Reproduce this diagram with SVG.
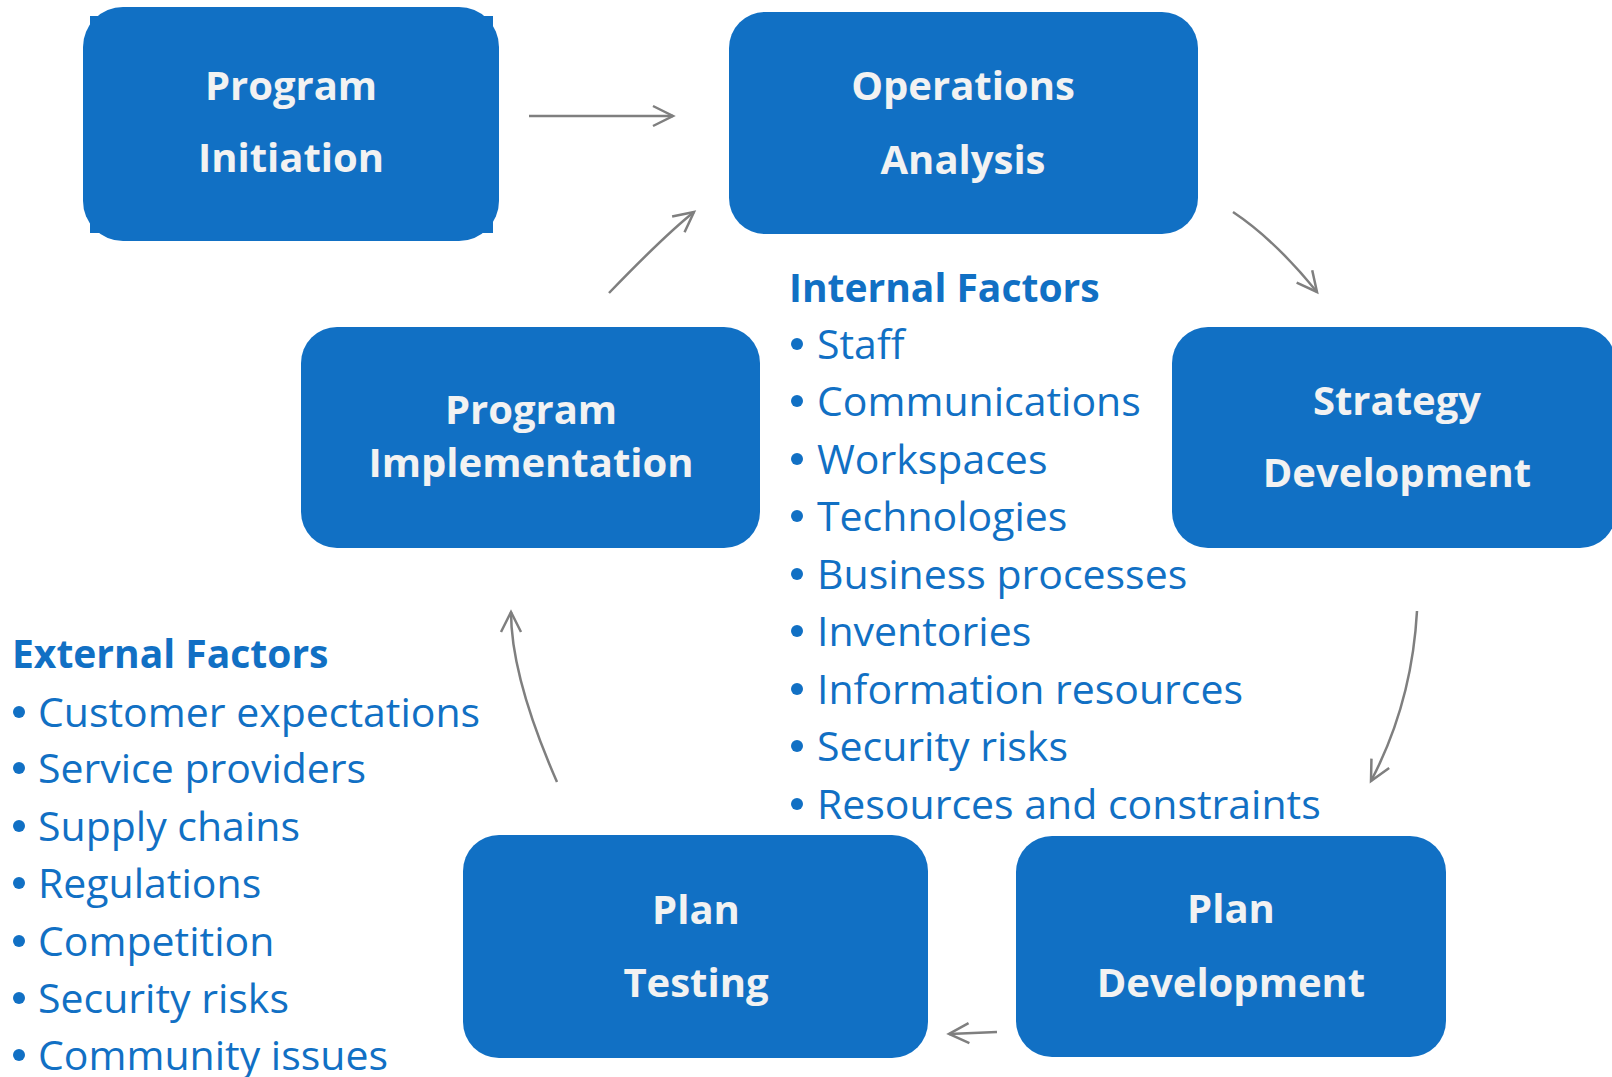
<svg xmlns="http://www.w3.org/2000/svg" width="1612" height="1077" viewBox="0 0 1612 1077">
  <style>
    .box { fill: #1170C4; }
    .label { font-family: "Open Sans", "Noto Sans", "Liberation Sans", sans-serif; font-weight: bold; font-size: 40px; fill: #F2F2F2; text-anchor: middle; }
    .head { font-family: "Open Sans", "Noto Sans", "Liberation Sans", sans-serif; font-weight: bold; font-size: 39px; fill: #1170C4; }
    .item { font-family: "Open Sans", "Noto Sans", "Liberation Sans", sans-serif; font-size: 41px; fill: #1170C4; }
    .dot { fill: #1170C4; }
    .link { fill: none; stroke: #7F7F7F; stroke-width: 2.5; marker-end: url(#chev); }
  </style>
  <defs>
    <marker id="chev" viewBox="0 0 26 26" refX="23" refY="13" markerWidth="26" markerHeight="26" markerUnits="userSpaceOnUse" orient="auto">
      <path d="M3,3 L23,13 L3,23" fill="none" stroke="#7F7F7F" stroke-width="2.5" stroke-linejoin="miter"/>
    </marker>
  </defs>
  <rect width="1612" height="1077" fill="#FFFFFF"/>

  <!-- process steps -->
  <g id="program-initiation">
    <rect class="box" x="83" y="7" width="416" height="234" rx="40"/>
    <rect class="box" x="90" y="16" width="403" height="217"/>
    <text class="label" x="291" y="100">Program</text>
    <text class="label" x="291" y="172">Initiation</text>
  </g>
  <g id="operations-analysis">
    <rect class="box" x="729" y="12" width="469" height="222" rx="36"/>
    <text class="label" x="963" y="100">Operations</text>
    <text class="label" x="963" y="174">Analysis</text>
  </g>
  <g id="strategy-development">
    <rect class="box" x="1172" y="327" width="444" height="221" rx="36"/>
    <text class="label" x="1397" y="415">Strategy</text>
    <text class="label" x="1397" y="487">Development</text>
  </g>
  <g id="program-implementation">
    <rect class="box" x="301" y="327" width="459" height="221" rx="36"/>
    <text class="label" x="531" y="424">Program</text>
    <text class="label" x="531" y="477">Implementation</text>
  </g>
  <g id="plan-testing">
    <rect class="box" x="463" y="835" width="465" height="223" rx="36"/>
    <text class="label" x="696" y="924">Plan</text>
    <text class="label" x="696" y="997">Testing</text>
  </g>
  <g id="plan-development">
    <rect class="box" x="1016" y="836" width="430" height="221" rx="36"/>
    <text class="label" x="1231" y="923">Plan</text>
    <text class="label" x="1231" y="997">Development</text>
  </g>

  <!-- factor lists -->
  <g id="internal-factors">
    <text class="head" x="789" y="302">Internal Factors</text>
    <g class="dot">
      <circle cx="797" cy="344" r="6"/>
      <circle cx="797" cy="401" r="6"/>
      <circle cx="797" cy="459" r="6"/>
      <circle cx="797" cy="516" r="6"/>
      <circle cx="797" cy="574" r="6"/>
      <circle cx="797" cy="631" r="6"/>
      <circle cx="797" cy="689" r="6"/>
      <circle cx="797" cy="746" r="6"/>
      <circle cx="797" cy="804" r="6"/>
    </g>
    <text class="item" x="817" y="359">Staff</text>
    <text class="item" x="817" y="416">Communications</text>
    <text class="item" x="817" y="474">Workspaces</text>
    <text class="item" x="817" y="531">Technologies</text>
    <text class="item" x="817" y="589">Business processes</text>
    <text class="item" x="817" y="646">Inventories</text>
    <text class="item" x="817" y="704">Information resources</text>
    <text class="item" x="817" y="761">Security risks</text>
    <text class="item" x="817" y="819">Resources and constraints</text>
  </g>
  <g id="external-factors">
    <text class="head" x="12" y="668">External Factors</text>
    <g class="dot">
      <circle cx="19" cy="712" r="6"/>
      <circle cx="19" cy="768" r="6"/>
      <circle cx="19" cy="826" r="6"/>
      <circle cx="19" cy="883" r="6"/>
      <circle cx="19" cy="941" r="6"/>
      <circle cx="19" cy="998" r="6"/>
      <circle cx="19" cy="1055" r="6"/>
    </g>
    <text class="item" x="38" y="727">Customer expectations</text>
    <text class="item" x="38" y="783">Service providers</text>
    <text class="item" x="38" y="841">Supply chains</text>
    <text class="item" x="38" y="898">Regulations</text>
    <text class="item" x="38" y="956">Competition</text>
    <text class="item" x="38" y="1013">Security risks</text>
    <text class="item" x="38" y="1070">Community issues</text>
  </g>

  <!-- connectors -->
  <g id="connectors">
    <path class="link" d="M529,116 L673,116"/>
    <path class="link" d="M1233,212 Q1275,240 1317,292"/>
    <path class="link" d="M1417,611 Q1412,703 1371,781"/>
    <path class="link" d="M997,1032 L949,1034"/>
    <path class="link" d="M557,782 Q511,677 511,612"/>
    <path class="link" d="M609,293 Q665,235 694,212"/>
  </g>
</svg>
